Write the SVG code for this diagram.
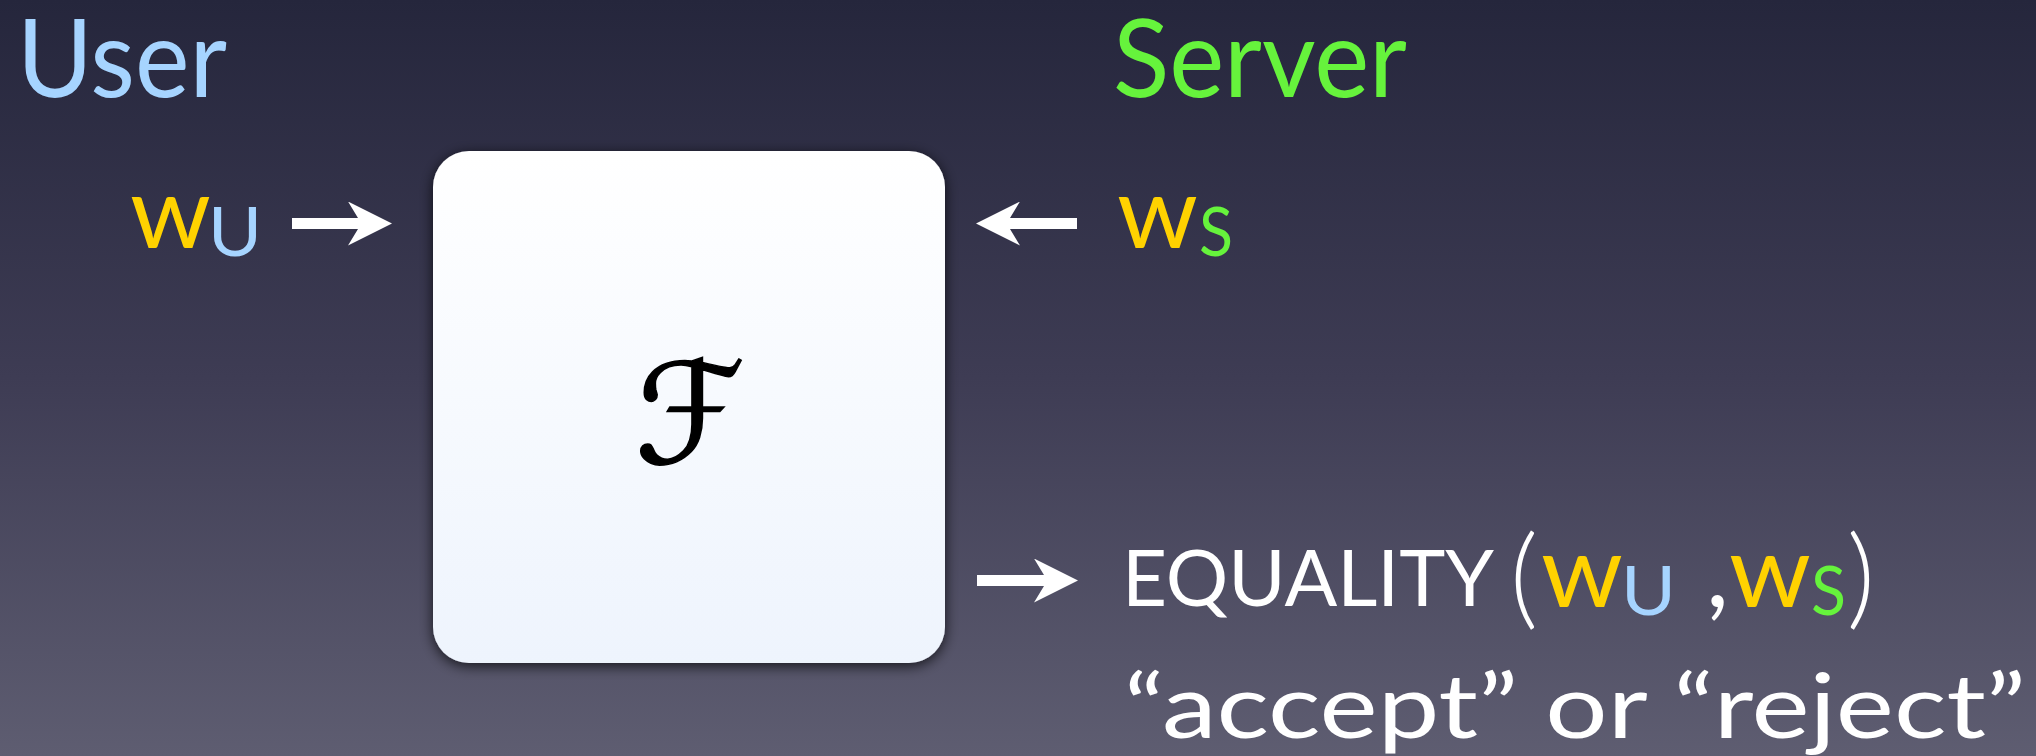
<svg xmlns="http://www.w3.org/2000/svg" width="2036" height="756" viewBox="0 0 2036 756">
  <defs>
    <linearGradient id="bg" x1="0" y1="0" x2="0" y2="1">
      <stop offset="0" stop-color="#25263c"/>
      <stop offset="0.5" stop-color="#3e3c54"/>
      <stop offset="1" stop-color="#5e5d71"/>
    </linearGradient>
    <linearGradient id="boxfill" x1="0" y1="0" x2="0" y2="1">
      <stop offset="0" stop-color="#ffffff"/>
      <stop offset="1" stop-color="#eef4fd"/>
    </linearGradient>
    <filter id="shadow" x="-10%" y="-10%" width="120%" height="120%">
      <feDropShadow dx="0" dy="3" stdDeviation="7" flood-color="#000000" flood-opacity="0.75"/>
    </filter>
    <marker id="head" viewBox="0 0 44 44" markerWidth="44" markerHeight="44" refX="24" refY="22" orient="auto" markerUnits="userSpaceOnUse">
      <path d="M0,0 L44,22 L0,44 L10,27.5 L10,16.5 Z" fill="#ffffff"/>
    </marker>
  </defs>
  <style>
    .t { font-family: Lato, "Open Sans", "DejaVu Sans", sans-serif; }
    .big { font-size: 109px; }
    .w { font-size: 101px; fill: #ffd200; }
    .sub { font-size: 68px; }
    .blue { fill: #a6d4ff; }
    .green { fill: #66f33c; }
    .white { fill: #ffffff; }
    .conn { stroke: #ffffff; stroke-width: 11; fill: none; marker-end: url(#head); }
  </style>
  <rect x="0" y="0" width="2036" height="756" fill="url(#bg)"/>

  <g id="user-label">
    <text class="t big blue" x="17" y="97" textLength="210" lengthAdjust="spacingAndGlyphs">User</text>
  </g>
  <g id="server-label">
    <text class="t big green" x="1113" y="97" textLength="294" lengthAdjust="spacingAndGlyphs">Server</text>
  </g>

  <g id="wu-input">
    <text class="t w" x="130" y="248" textLength="81" lengthAdjust="spacingAndGlyphs">w</text>
    <text class="t sub blue" x="208" y="256" textLength="54" lengthAdjust="spacingAndGlyphs">U</text>
  </g>
  <g id="ws-input">
    <text class="t w" x="1117" y="248" textLength="81" lengthAdjust="spacingAndGlyphs">w</text>
    <text class="t sub green" x="1199" y="256" textLength="34" lengthAdjust="spacingAndGlyphs">S</text>
  </g>

  <g id="functionality">
    <rect x="433" y="151" width="512" height="512" rx="36" ry="36" fill="url(#boxfill)" filter="url(#shadow)"/>
    <text x="690" y="463" text-anchor="middle" font-family="'DejaVu Serif', 'DejaVu Sans', serif" font-size="140" fill="#000000" stroke="#000000" stroke-width="1.5">ℱ</text>
  </g>

  <g id="output">
    <text class="t white" x="1122" y="606" font-size="77" textLength="372" lengthAdjust="spacingAndGlyphs">EQUALITY</text>
    <text class="t white" x="1524" y="615" font-size="110" font-weight="300" text-anchor="middle">(</text>
    <text class="t w" x="1541" y="607" textLength="82" lengthAdjust="spacingAndGlyphs">w</text>
    <text class="t sub blue" x="1621" y="615" textLength="55" lengthAdjust="spacingAndGlyphs">U</text>
    <text class="t white" x="1706" y="607" font-size="101">,</text>
    <text class="t w" x="1729" y="607" textLength="82" lengthAdjust="spacingAndGlyphs">w</text>
    <text class="t sub green" x="1811" y="615" textLength="35" lengthAdjust="spacingAndGlyphs">S</text>
    <text class="t white" x="1861" y="615" font-size="110" font-weight="300" text-anchor="middle">)</text>
    <text class="t white" x="1124" y="738" font-size="89" textLength="902" lengthAdjust="spacingAndGlyphs">“accept” or “reject”</text>
  </g>

  <g id="connectors">
    <line class="conn" x1="292" y1="223.5" x2="372" y2="223.5"/>
    <line class="conn" x1="1077" y1="223.5" x2="996" y2="223.5"/>
    <line class="conn" x1="977" y1="580.5" x2="1058" y2="580.5"/>
  </g>
</svg>
